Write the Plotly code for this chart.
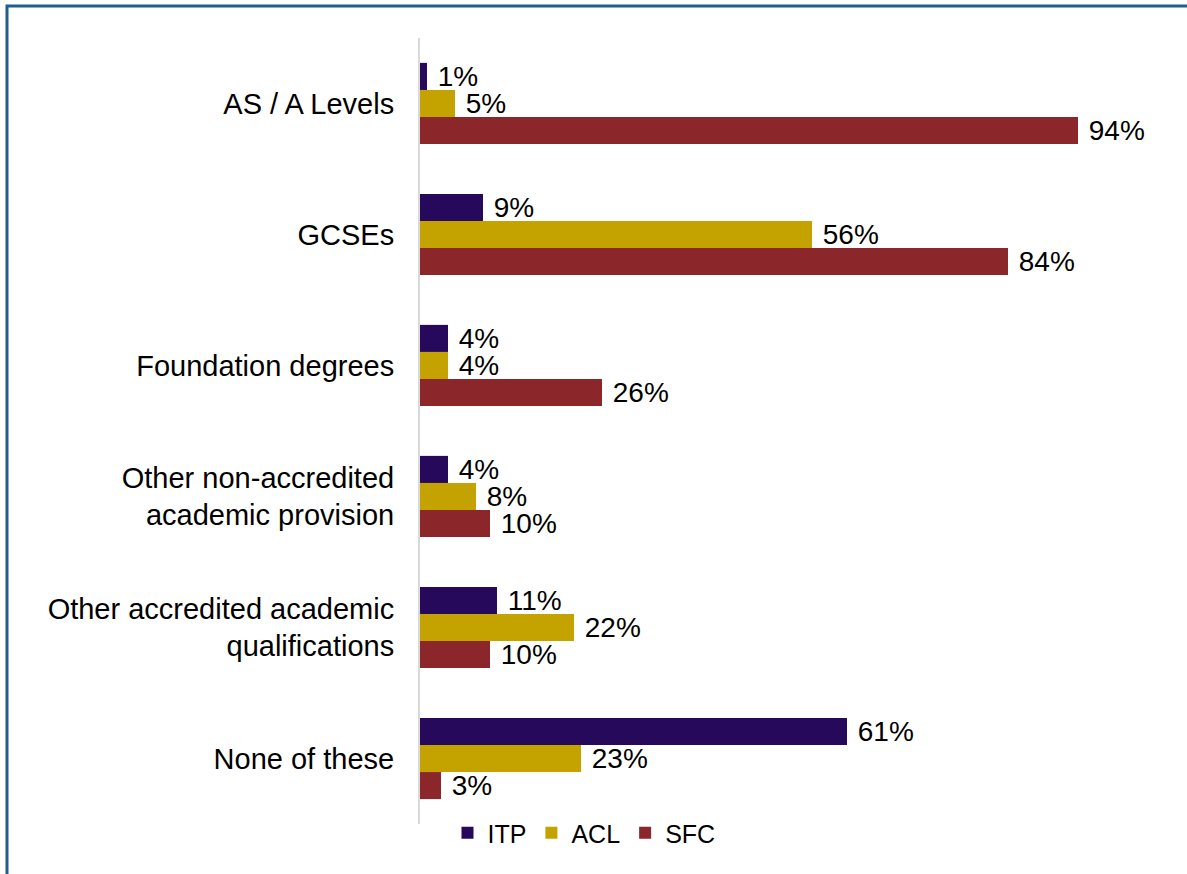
import plotly.graph_objects as go

categories = ["AS / A Levels", "GCSEs", "Foundation degrees",
              "Other non-accredited<br>academic provision",
              "Other accredited academic<br>qualifications", "None of these"]
series_names = ["ITP", "ACL", "SFC"]
itp = [1, 9, 4, 4, 11, 61]
acl = [5, 56, 4, 8, 22, 23]
sfc = [94, 84, 26, 10, 10, 3]
colors = ["#26095a", "#c4a300", "#8b262b"]

W, H = 1187, 874
ML, MR, MT, MB = 420, 37, 38, 50
PW = W - ML - MR
PH = H - MT - MB
PX_PER_UNIT = 7.0
FONT = "Liberation Sans, Arial, sans-serif"

fig = go.Figure()
for name, vals, col in zip(series_names, [itp, acl, sfc], colors):
    fig.add_trace(go.Bar(
        y=categories, x=vals, name=name, orientation="h",
        marker=dict(color=col, line=dict(width=0)),
        text=[f" {v}%" for v in vals], textposition="outside",
        textfont=dict(size=28, color="black", family=FONT),
        constraintext="none", cliponaxis=False,
    ))

def px_to_paper_x(px):
    return (px - ML) / PW

def px_to_paper_y(py):
    return 1 - (py - MT) / PH

fig.add_shape(type="rect", xref="paper", yref="paper",
              x0=px_to_paper_x(7), x1=px_to_paper_x(W + 20),
              y0=px_to_paper_y(H + 20), y1=px_to_paper_y(6),
              line=dict(color="#1f5f8b", width=3), fillcolor="rgba(0,0,0,0)",
              layer="above")

fig.update_layout(
    width=W, height=H,
    margin=dict(l=ML, r=MR, t=MT, b=MB, autoexpand=False),
    paper_bgcolor="white", plot_bgcolor="white",
    barmode="group", bargap=0.38, bargroupgap=0,
    font=dict(family=FONT, color="black"),
    showlegend=True,
    legend=dict(orientation="h", x=px_to_paper_x(584), xanchor="center",
                y=px_to_paper_y(810), yanchor="top",
                traceorder="normal", font=dict(size=25),
                itemwidth=30, bgcolor="rgba(0,0,0,0)"),
    xaxis=dict(range=[0, PW / PX_PER_UNIT], showgrid=False, zeroline=False,
               showticklabels=False, showline=False, fixedrange=True),
    yaxis=dict(autorange="reversed", showgrid=False, zeroline=False,
               showline=True, linecolor="#d9d9d9", linewidth=2,
               ticks="", tickfont=dict(size=29), ticklabelstandoff=18),
)

fig.write_html("out.html",
               config={"displayModeBar": False},
               post_script="document.body.style.margin='0';document.body.style.overflow='hidden';")
